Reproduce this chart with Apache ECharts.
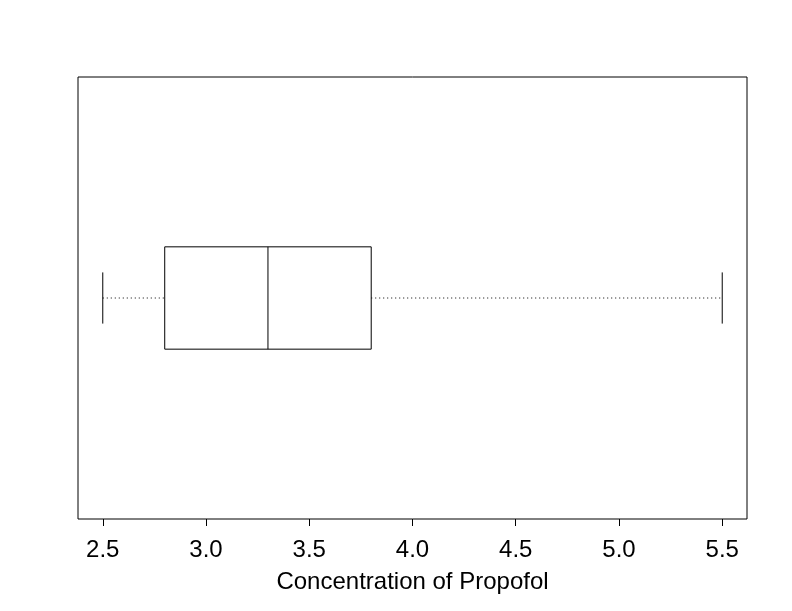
<!DOCTYPE html>
<html><head><meta charset="utf-8">
<script src="https://cdn.jsdelivr.net/npm/echarts@6/dist/echarts.min.js"></script>
<style>html,body{margin:0;padding:0;background:#fff}#c{width:792px;height:611px}</style>
</head><body><div id="c"></div>
<script>
// five-number summary: min, Q1, median, Q3, max
const stats = [2.5, 2.8, 3.3, 3.8, 5.5];
const tickValues = [2.5, 3.0, 3.5, 4.0, 4.5, 5.0, 5.5];
const axisTitle = 'Concentration of Propofol';

const chart = echarts.init(document.getElementById('c'), null, {renderer: 'canvas'});
const FONT = '"Liberation Sans", Arial, sans-serif';

chart.setOption({
  animation: false,
  backgroundColor: '#fff',
  grid: {left: 78, top: 77, right: 45, bottom: 92, show: true, borderColor: '#000', borderWidth: 1, backgroundColor: 'transparent'},
  xAxis: {
    type: 'value', min: 2.38, max: 5.62,
    axisLine: {show: false},
    splitLine: {show: false},
    axisTick: {show: true, inside: false, length: 7, lineStyle: {color: '#000'}, customValues: tickValues},
    axisLabel: {show: true, margin: 19, fontSize: 24, color: '#000', fontFamily: FONT, customValues: tickValues,
      formatter: v => v.toFixed(1)},
    name: axisTitle, nameLocation: 'middle', nameGap: 51,
    nameTextStyle: {fontSize: 24, color: '#000', fontFamily: FONT}
  },
  yAxis: {
    type: 'value', min: 0.46, max: 1.54, show: false, splitLine: {show: false}
  },
  series: [{
    type: 'custom',
    data: [[1].concat(stats)],
    renderItem: function (params, api) {
      const y = api.value(0);
      const mn = api.value(1), q1 = api.value(2), md = api.value(3), q3 = api.value(4), mx = api.value(5);
      const hw = 0.125, cw = 0.0625;
      const p = (x, yy) => api.coord([x, yy]);
      const line = (a, b, dashed) => ({
        type: 'line',
        shape: {x1: a[0], y1: a[1], x2: b[0], y2: b[1]},
        style: {stroke: '#000', lineWidth: 1, lineDash: dashed ? [1, 3] : null}
      });
      const tl = p(q1, y + hw), br = p(q3, y - hw);
      return {
        type: 'group',
        children: [
          line(p(mn, y), p(q1, y), true),
          line(p(q3, y), p(mx, y), true),
          line(p(mn, y - cw), p(mn, y + cw)),
          line(p(mx, y - cw), p(mx, y + cw)),
          {type: 'rect', shape: {x: tl[0], y: tl[1], width: br[0] - tl[0], height: br[1] - tl[1]},
           style: {fill: '#fff', stroke: '#000', lineWidth: 1}},
          line(p(md, y - hw), p(md, y + hw))
        ]
      };
    }
  }]
});
</script></body></html>
